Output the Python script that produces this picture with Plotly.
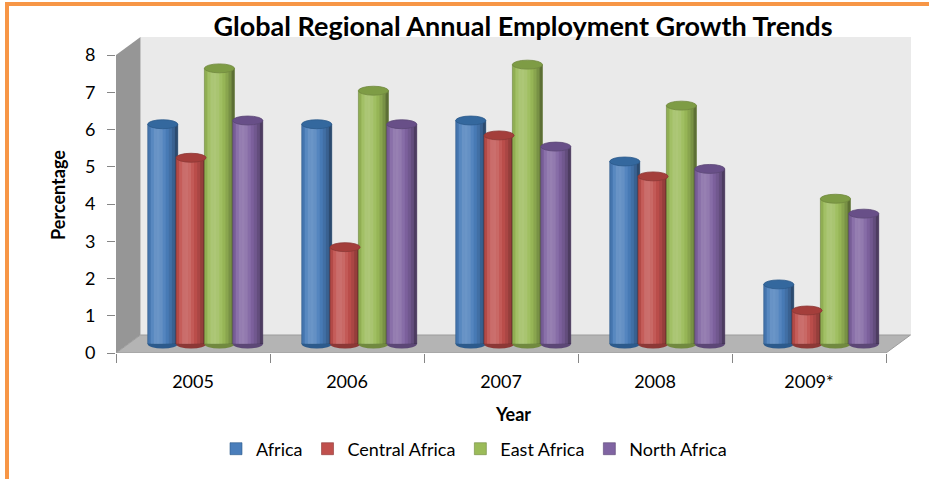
import plotly.graph_objects as go
import math

# ---- data ----
years = ["2005", "2006", "2007", "2008", "2009*"]
series_names = ["Africa", "Central Africa", "East Africa", "North Africa"]
africa = [5.9, 5.9, 6.0, 4.9, 1.6]
central_africa = [5.0, 2.6, 5.6, 4.5, 0.9]
east_africa = [7.4, 6.8, 7.5, 6.4, 3.9]
north_africa = [6.0, 5.9, 5.3, 4.7, 3.5]
series_values = [africa, central_africa, east_africa, north_africa]
y_ticks = [0, 1, 2, 3, 4, 5, 6, 7, 8]

# ---- styling ----
body_colors = ["#4A7EBB", "#C0504D", "#9BBB59", "#8064A2"]
edge_colors = ["#2C5A8C", "#8C3836", "#71893F", "#5C4776"]
top_colors = ["#34689E", "#A43E3B", "#7E9C45", "#684F88"]
FONT = "Lato"
W, H = 929, 479
ML, MR, MT, MB = 116, 18, 37, 126
PX_PER_CAT = 154.0
PX_PER_UNIT = 37.25
X_MIN = -0.5
X_MAX = X_MIN + (W - ML - MR) / PX_PER_CAT
Y_MAX = (H - MT - MB) / PX_PER_UNIT

# 3-D depth of the floor, expressed in axis units
DX = 24.5 / PX_PER_CAT
DY = 18.0 / PX_PER_UNIT
BASE = DY / 2          # columns stand half-way back on the floor
BAR_W = 0.195
BAR_STEP = 0.184
CAP_H = 0.12
N_STRIPS = 10


def shade(t):
    """Overlay colour for a vertical strip of a cylinder (t = 0 left, 1 right)."""
    theta = math.asin(max(-1.0, min(1.0, 2 * t - 1)))
    nx, nz = math.sin(theta), math.cos(theta)
    lx, lz = -0.35, 0.94
    lit = max(0.0, nx * lx + nz * lz)
    if lit > 0.85:
        return "rgba(255,255,255,%.3f)" % (0.18 * (lit - 0.85) / 0.15)
    return "rgba(0,0,0,%.3f)" % (0.45 * (0.85 - lit) / 0.85)


fig = go.Figure()
shapes = []

# back wall, side wall and floor of the 3-D box
shapes.append(dict(type="rect", layer="below", xref="x", yref="y",
                   x0=X_MIN + DX, x1=X_MAX, y0=DY, y1=Y_MAX,
                   fillcolor="#EAEAEA", line=dict(width=0)))
shapes.append(dict(type="path", layer="below", xref="x", yref="y",
                   path="M %f,%f L %f,%f L %f,%f L %f,%f Z" % (
                       X_MIN, 0, X_MIN, 8, X_MIN + DX, 8 + DY, X_MIN + DX, DY),
                   fillcolor="#969696", line=dict(width=0)))
shapes.append(dict(type="path", layer="below", xref="x", yref="y",
                   path="M %f,%f L %f,%f L %f,%f L %f,%f Z" % (
                       X_MIN, 0, 4.5, 0, 4.5 + DX, DY, X_MIN + DX, DY),
                   fillcolor="#B4B4B4", line=dict(color="#9C9C9C", width=1)))

for s, (name, vals) in enumerate(zip(series_names, series_values)):
    rel = (s - 1.5) * BAR_STEP + DX / 2 - BAR_W / 2
    fig.add_trace(go.Bar(
        name=name, x=years, y=vals, base=BASE, width=BAR_W, offset=rel,
        marker=dict(color=body_colors[s], line=dict(color=edge_colors[s], width=0.6)),
        hovertemplate="%{x}: %{y}<extra>" + name + "</extra>",
    ))
    sw = BAR_W / N_STRIPS
    for k in range(N_STRIPS):
        fig.add_trace(go.Bar(
            x=years, y=vals, base=BASE, width=sw, offset=rel + k * sw,
            marker=dict(color=shade((k + 0.5) / N_STRIPS), line=dict(width=0)),
            showlegend=False, hoverinfo="skip",
        ))
    for i, v in enumerate(vals):
        cx0 = i + rel
        cx1 = cx0 + BAR_W
        # rounded bottom of the cylinder
        shapes.append(dict(type="circle", layer="below", xref="x", yref="y",
                           x0=cx0, x1=cx1, y0=BASE - CAP_H, y1=BASE + CAP_H,
                           fillcolor=edge_colors[s], line=dict(width=0)))
        # top face of the cylinder
        shapes.append(dict(type="circle", layer="above", xref="x", yref="y",
                           x0=cx0, x1=cx1, y0=BASE + v - CAP_H, y1=BASE + v + CAP_H,
                           fillcolor=top_colors[s],
                           line=dict(color=edge_colors[s], width=0.8)))


def px_x(p):
    return (p - ML) / (W - ML - MR)


def px_y(p):
    return (H - MB - p) / (H - MT - MB)


# orange frame around the chart
shapes.append(dict(type="line", xref="paper", yref="paper",
                   x0=px_x(5), x1=px_x(W + 2), y0=px_y(4), y1=px_y(4),
                   line=dict(color="#F79646", width=4)))
shapes.append(dict(type="line", xref="paper", yref="paper",
                   x0=px_x(7), x1=px_x(7), y0=px_y(2), y1=px_y(H + 2),
                   line=dict(color="#F79646", width=4)))

fig.update_layout(
    width=W, height=H,
    margin=dict(l=ML, r=MR, t=MT, b=MB),
    paper_bgcolor="white", plot_bgcolor="white",
    barmode="overlay",
    font=dict(family=FONT, size=18, color="#000000"),
    title=dict(text="<b>Global Regional Annual Employment Growth Trends</b>",
               x=523 / W, xanchor="center", y=1 - 27 / H, yanchor="middle",
               font=dict(family=FONT, size=27, color="#000000")),
    xaxis=dict(type="category", range=[X_MIN, X_MAX], tickson="boundaries",
               ticks="outside", ticklen=9, tickcolor="#868686", tickwidth=1,
               showgrid=False, showline=False, zeroline=False, automargin=False,
               ticklabelstandoff=16,
               title=dict(text="<b>Year</b>", standoff=17,
                          font=dict(family=FONT, size=18))),
    yaxis=dict(range=[0, Y_MAX], tickvals=y_ticks, ticks="outside", ticklen=8,
               tickcolor="#868686", showgrid=False, showline=False, zeroline=False,
               automargin=False, ticklabelstandoff=8,
               title=dict(text="<b>Percentage</b>", standoff=14,
                          font=dict(family=FONT, size=18))),
    legend=dict(orientation="h", xref="container", yref="container",
                x=474 / W, xanchor="center", y=1 - 449 / H, yanchor="middle",
                font=dict(family=FONT, size=18), itemwidth=30),
    shapes=shapes,
    showlegend=True,
)

fig.write_html("out.html")
